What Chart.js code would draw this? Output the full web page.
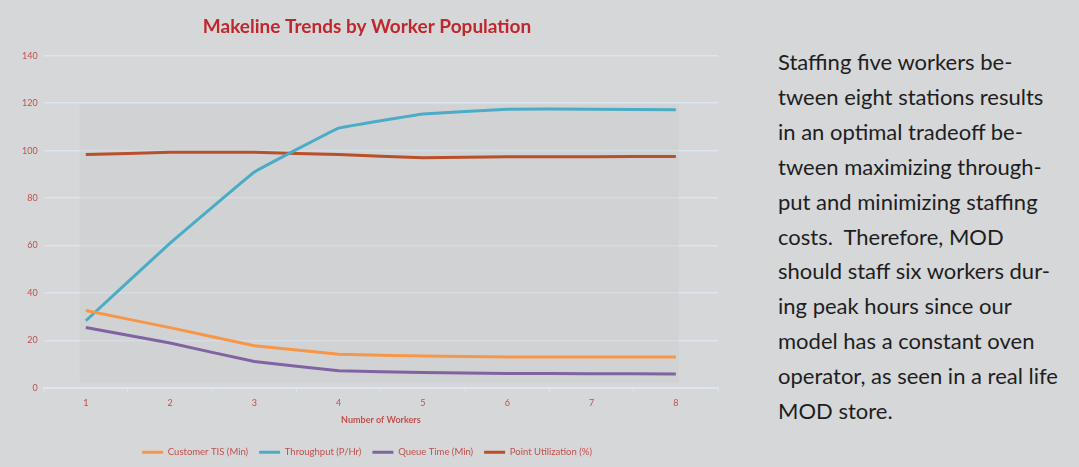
<!DOCTYPE html>
<html>
<head>
<meta charset="utf-8">
<script src="https://cdn.jsdelivr.net/npm/chart.js@4"></script>
<style>
  html, body { margin: 0; padding: 0; background: #d6d7d9; }
  body { width: 1079px; height: 467px; position: relative; overflow: hidden; }
  #chartBox { position: absolute; left: 0; top: 0; width: 744px; height: 467px; }
  #note {
    position: absolute; left: 778px; top: 45px; width: 300px; white-space: nowrap;
    font-family: Lato, "Open Sans", sans-serif; font-size: 22px; line-height: 34.9px;
    color: #1e1e1e;
  }
</style>
</head>
<body>
<div id="chartBox"><canvas id="trendChart"></canvas></div>
<div id="note">Staffing five workers be-<br>tween eight stations results<br>in an optimal tradeoff be-<br>tween maximizing through-<br>put and minimizing staffing<br>costs.&nbsp; Therefore, MOD<br>should staff six workers dur-<br>ing peak hours since our<br>model has a constant oven<br>operator, as seen in a real life<br>MOD store.</div>
<script>
const workers = ['1', '2', '3', '4', '5', '6', '7', '8'];
const customerTIS = [32.6, 25.4, 17.8, 14.2, 13.4, 13.0, 13.0, 13.0];
const throughput = [28.3, 61, 91, 109.5, 115.5, 117.5, 117.5, 117.3];
const queueTime = [25.5, 18.9, 11.1, 7.2, 6.5, 6.1, 6.0, 5.9];
const pointUtil = [98.4, 99.3, 99.3, 98.4, 97.0, 97.4, 97.4, 97.6];
const yTicks = [0, 20, 40, 60, 80, 100, 120, 140];

const red = '#c0504d';
const gridBlue = '#dce6f2';

// darker panel behind the lines, like the original plot area
const panel = {
  id: 'panel',
  beforeDatasetsDraw(chart) {
    const { ctx, scales: { x, y } } = chart;
    const left = x.getPixelForValue(0) - 6;
    const right = x.getPixelForValue(7) + 3;
    const top = y.getPixelForValue(119.5);
    const bottom = y.getPixelForValue(2);
    ctx.save();
    ctx.fillStyle = 'rgba(200,201,204,0.35)';
    ctx.fillRect(left, top, right - left, bottom - top);
    ctx.restore();
  }
};

function line(label, data, color) {
  return {
    label, data,
    borderColor: color, backgroundColor: color,
    borderWidth: 3, pointRadius: 0, tension: 0.05
  };
}

new Chart(document.getElementById('trendChart'), {
  type: 'line',
  data: {
    labels: workers,
    datasets: [
      line('Customer TIS (Min)', customerTIS, '#f79646'),
      line('Throughput (P/Hr)', throughput, '#4bacc6'),
      line('Queue Time (Min)', queueTime, '#8064a2'),
      line('Point Utilization (%)', pointUtil, '#b9502a')
    ]
  },
  options: {
    responsive: true,
    maintainAspectRatio: false,
    animation: false,
    layout: { padding: { top: 7, right: 26, bottom: 0, left: 16 } },
    plugins: {
      title: {
        display: true,
        text: 'Makeline Trends by Worker Population',
        color: '#c0272d',
        font: { family: 'Lato', size: 19, weight: 'bold' },
        padding: { top: 8, bottom: 18 }
      },
      legend: {
        position: 'bottom',
        labels: {
          usePointStyle: true,
          pointStyle: 'line',
          pointStyleWidth: 21,
          color: red,
          font: { family: 'Lato', size: 9.5 },
          padding: 11
        }
      },
      tooltip: { enabled: false }
    },
    scales: {
      x: {
        offset: true,
        grid: { drawOnChartArea: false, drawTicks: true, tickLength: 4, color: gridBlue, offset: true },
        border: { display: true, color: gridBlue, width: 2 },
        ticks: { color: red, font: { family: 'Lato', size: 9 }, padding: 6 },
        title: {
          display: true, text: 'Number of Workers', color: red,
          font: { family: 'Lato', size: 9, weight: 'bold' }, padding: { top: 0, bottom: 11 }
        }
      },
      y: {
        min: 0, max: 140,
        afterBuildTicks(axis) { axis.ticks = yTicks.map(v => ({ value: v })); },
        grid: { color: gridBlue, lineWidth: 1.5, drawTicks: false },
        border: { display: false },
        ticks: { color: red, font: { family: 'Lato', size: 9 }, padding: 6 }
      }
    }
  },
  plugins: [panel]
});
</script>
</body>
</html>
